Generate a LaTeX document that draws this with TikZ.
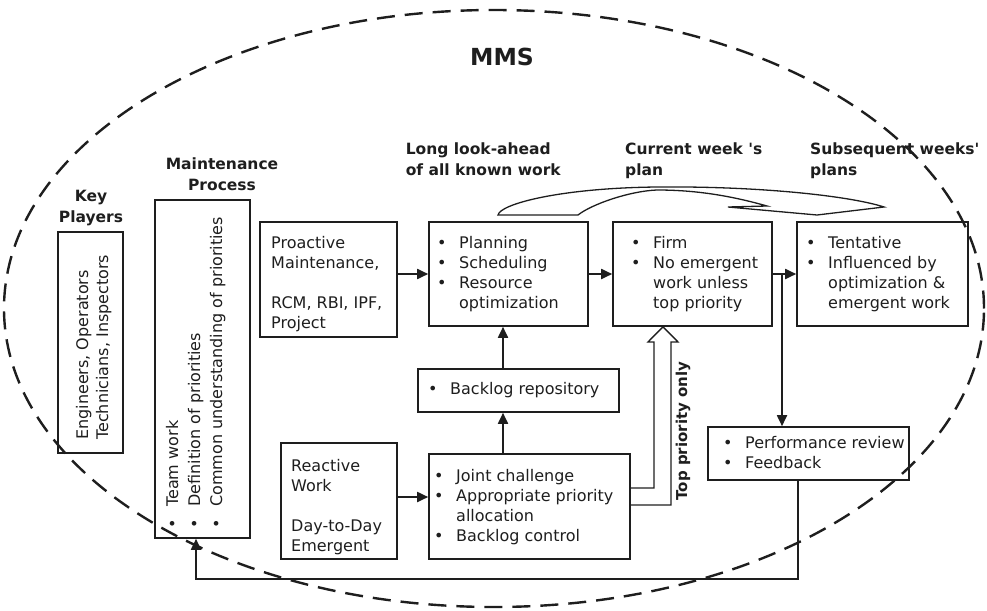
\documentclass[tikz,border=0pt]{standalone}
\usepackage{fontspec}
\setmainfont{DejaVu Sans}
\usetikzlibrary{arrows.meta}
\definecolor{ink}{HTML}{1E1E1E}
\newcommand\bodyfont{\fontsize{16}{20}\selectfont}
\newcommand\headfont{\fontsize{15.5}{21}\selectfont\bfseries}
\newcommand\lstrut{\rule[-.3\baselineskip]{0pt}{\baselineskip}}
\newcommand\bul{\makebox[22pt][l]{\textbullet}}
\newcommand\ind{\hspace*{22pt}}
\tikzset{
  box/.style={draw=ink, line width=1.6pt, inner sep=0pt},
  txt/.style={inner sep=0pt, anchor=north west, align=left, font=\bodyfont, text=ink},
  headL/.style={inner sep=0pt, anchor=north west, align=left, font=\headfont, text=ink},
  headC/.style={inner sep=0pt, anchor=north, align=center, font=\headfont, text=ink},
  arr/.style={draw=ink, line width=1.8pt, -{Triangle[length=11pt,width=10pt]}},
  hollow/.style={draw=ink, line width=1.4pt, line join=miter},
  boundary/.style={draw=ink, line width=2.4pt, dash pattern=on 18pt off 10pt}
}
\begin{document}
\begin{tikzpicture}[x=1pt,y=-1pt]
\useasboundingbox (0,0) rectangle (987,610);

% system boundary
\draw[boundary] (494,308.5) ellipse [x radius=490pt, y radius=298.5pt];
\node[inner sep=0pt, anchor=base, font=\fontsize{23.5}{28}\selectfont\bfseries, text=ink] (mms) at (502,65) {MMS};

% column headings
\node[headC] (keyH) at (91,186.3) {\lstrut Key\\\lstrut Players};
\node[headC] (mpH) at (222,154.3) {\lstrut Maintenance\\\lstrut Process};
\node[headL] (lookH) at (405.6,139.3) {\lstrut Long look-ahead\\\lstrut of all known work};
\node[headL] (curH) at (625,139.3) {\lstrut Current week \textquotesingle s\\\lstrut plan};
\node[headL] (subH) at (810,139.3) {\lstrut Subsequent weeks\textquotesingle\\\lstrut plans};

% boxes
\node[box, minimum width=65pt, minimum height=221pt] (keyBox) at (90.5,342.5) {};
\node[box, minimum width=95pt, minimum height=338pt] (mpBox) at (202.5,369) {};
\node[box, minimum width=137pt, minimum height=115pt] (proBox) at (328.5,279.5) {};
\node[box, minimum width=159pt, minimum height=104pt] (planBox) at (508.5,274) {};
\node[box, minimum width=159pt, minimum height=104pt] (curBox) at (692.5,274) {};
\node[box, minimum width=171pt, minimum height=104pt] (subBox) at (882.5,274) {};
\node[box, minimum width=201pt, minimum height=43pt] (backBox) at (518.5,390.5) {};
\node[box, minimum width=116pt, minimum height=116pt] (reactBox) at (339,501) {};
\node[box, minimum width=201pt, minimum height=105pt] (jointBox) at (529.5,506.5) {};
\node[box, minimum width=201pt, minimum height=53pt] (perfBox) at (808.5,453.5) {};

% rotated box texts
\node[inner sep=0pt, rotate=90, anchor=west, align=left, font=\bodyfont, text=ink] (keyT) at (94,440)
  {\lstrut Engineers, Operators\\\lstrut Technicians, Inspectors};
\node[inner sep=0pt, rotate=90, anchor=west, align=left, font=\fontsize{16}{22}\selectfont, text=ink] (mpT) at (195.6,529)
  {\lstrut\bul Team work\\\lstrut\bul Definition of priorities\\\lstrut\bul Common understanding of priorities};

% box texts
\node[txt] (proT) at (271,234) {\lstrut Proactive\\\lstrut Maintenance,\\\lstrut\\\lstrut RCM, RBI, IPF,\\\lstrut Project};
\node[txt] (planT) at (437,234) {\lstrut\bul Planning\\\lstrut\bul Scheduling\\\lstrut\bul Resource\\\lstrut\ind optimization};
\node[txt] (curT) at (631,234) {\lstrut\bul Firm\\\lstrut\bul No emergent\\\lstrut\ind work unless\\\lstrut\ind top priority};
\node[txt] (subT) at (806,234) {\lstrut\bul Tentative\\\lstrut\bul Influenced by\\\lstrut\ind optimization \&\\\lstrut\ind emergent work};
\node[txt] (backT) at (428,380) {\lstrut\bul Backlog repository};
\node[txt] (reactT) at (291,457) {\lstrut Reactive\\\lstrut Work\\\lstrut\\\lstrut Day-to-Day\\\lstrut Emergent};
\node[txt] (jointT) at (434,467) {\lstrut\bul Joint challenge\\\lstrut\bul Appropriate priority\\\lstrut\ind allocation\\\lstrut\bul Backlog control};
\node[txt] (perfT) at (723,434) {\lstrut\bul Performance review\\\lstrut\bul Feedback};

% flow arrows
\draw[arr] (proBox.east |- planBox.west) -- (planBox.west);
\draw[arr] (planBox.east) -- (curBox.west);
\draw[arr] (curBox.east) -- (subBox.west);
\coordinate (split) at (782,274);
\draw[arr] (split) -- (split |- perfBox.north);
\coordinate (colB) at (503,0);
\draw[arr] (backBox.north -| colB) -- (planBox.south -| colB);
\draw[arr] (jointBox.north -| colB) -- (backBox.south -| colB);
\coordinate (rj) at (0,497);
\draw[arr] (reactBox.east |- rj) -- (jointBox.west |- rj);

% feedback loop
\coordinate (fbA) at (798,579);
\coordinate (fbB) at (196,579);
\draw[arr] (perfBox.south -| fbA) -- (fbA) -- (fbB) -- (mpBox.south -| fbB);

% top-priority escalation (hollow arrow)
\coordinate (tpU) at (0,488);
\coordinate (tpL) at (0,505);
\coordinate (tpTip) at (663,0);
\draw[hollow] (jointBox.east |- tpU) -- (654,488) -- (654,342) -- (648,342) -- (tpTip |- curBox.south)
  -- (678,342) -- (671,342) -- (671,505) -- (jointBox.east |- tpL);
\node[inner sep=0pt, rotate=90, font=\fontsize{15}{21}\selectfont\bfseries, text=ink] (topT) at (683,431) {\lstrut Top priority only};

% look-ahead feeding later weeks (curved hollow arrow)
\draw[hollow, line width=1.3pt] (498,215) .. controls (500,204) and (560,188) .. (657,187)
  .. controls (760,186) and (850,196) .. (884,207) -- (817,215) -- (728,207) -- (767,206)
  .. controls (735,197) and (700,190) .. (657,190)
  .. controls (630,191) and (592,204) .. (578,215) -- cycle;
\end{tikzpicture}
\end{document}
